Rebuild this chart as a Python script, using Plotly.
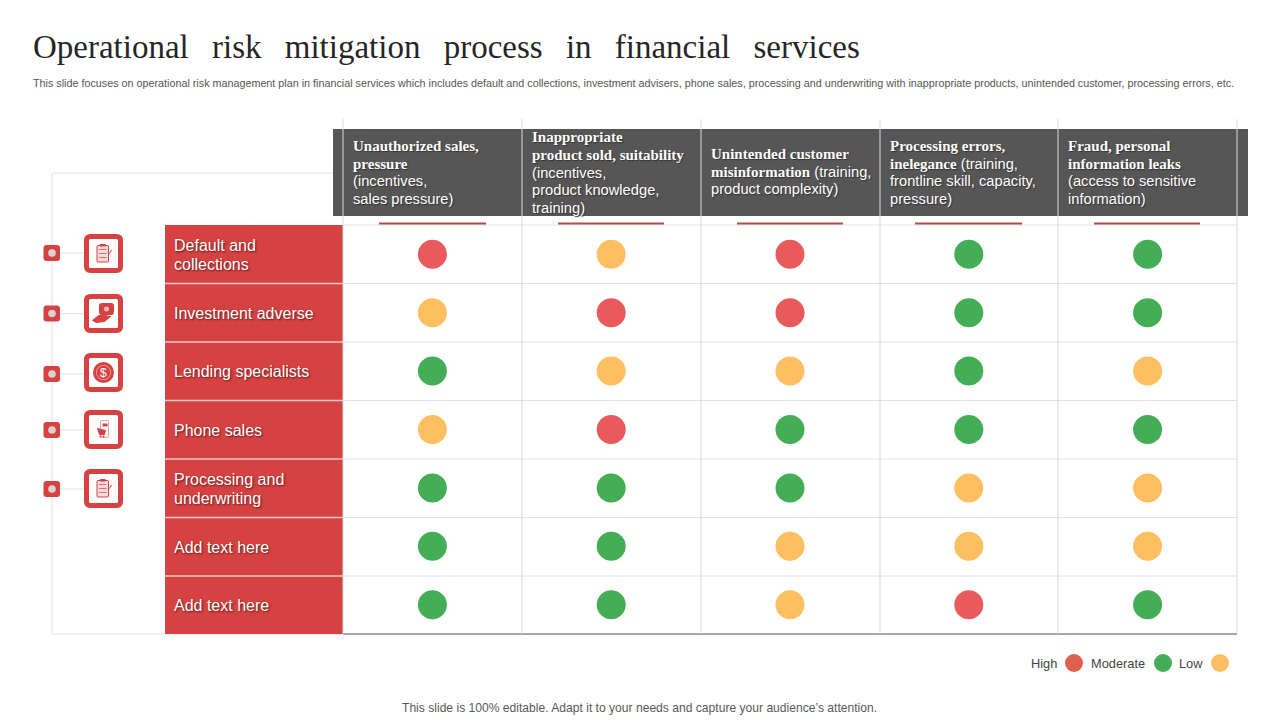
import plotly.graph_objects as go

# Textos
title = "Operational risk mitigation process in financial services"
subtitle = ("This slide focuses on operational risk management plan in financial services which includes default and collections, "
            "investment advisers, phone sales, processing and underwriting with inappropriate products, unintended customer, processing errors, etc.")
footer = "This slide is 100% editable. Adapt it to your needs and capture your audience\u2019s attention."

# Dados da matriz
row_labels = [
    ["Default and", "collections"],
    ["Investment adverse"],
    ["Lending specialists"],
    ["Phone sales"],
    ["Processing and", "underwriting"],
    ["Add text here"],
    ["Add text here"],
]
# cada linha do cabecalho: (parte em negrito, parte normal)
col_headers = [
    [("Unauthorized sales,", ""), ("pressure", ""), ("", "(incentives,"), ("", "sales pressure)")],
    [("Inappropriate", ""), ("product sold, suitability", ""), ("", "(incentives,"), ("", "product knowledge,"), ("", "training)")],
    [("Unintended customer", ""), ("misinformation", " (training,"), ("", "product complexity)")],
    [("Processing errors,", ""), ("inelegance", " (training,"), ("", "frontline skill, capacity,"), ("", "pressure)")],
    [("Fraud, personal", ""), ("information leaks", ""), ("", "(access to sensitive"), ("", "information)")],
]
ratings = [
    ["High", "Low", "High", "Moderate", "Moderate"],
    ["Low", "High", "High", "Moderate", "Moderate"],
    ["Moderate", "Low", "Low", "Moderate", "Low"],
    ["Low", "High", "Moderate", "Moderate", "Moderate"],
    ["Moderate", "Moderate", "Moderate", "Low", "Low"],
    ["Moderate", "Moderate", "Low", "Low", "Low"],
    ["Moderate", "Moderate", "Low", "High", "Moderate"],
]
legend_levels = ["High", "Moderate", "Low"]

# Cores
RED = "#D64242"
DARK = "#565656"
GRID = "#E2E2E2"
level_colors = {"High": "#E95A5C", "Moderate": "#43AE55", "Low": "#FDBF62"}
legend_colors = {"High": "#E0604F", "Moderate": "#43AE55", "Low": "#FDBF62"}
SANS = "Liberation Sans"
SERIF = "Liberation Serif"

# Geometria em pixels
cols_x = [343, 522, 701, 880, 1058, 1237]
rows_y = [225, 283.5, 342, 400.5, 459, 517.5, 576, 634]
shapes = []
annots = []


def rect(x0, y0, x1, y1, fill, line=None, width=0):
    shapes.append(dict(type="rect", xref="x2", yref="y2", x0=x0, y0=y0, x1=x1, y1=y1,
                       fillcolor=fill, line=dict(color=line or fill, width=width)))


def seg(x0, y0, x1, y1, color=GRID, width=1):
    shapes.append(dict(type="line", xref="x2", yref="y2", x0=x0, y0=y0, x1=x1, y1=y1,
                       line=dict(color=color, width=width)))


def path(d, fill="rgba(0,0,0,0)", line=RED, width=1):
    shapes.append(dict(type="path", xref="x2", yref="y2", path=d, fillcolor=fill,
                       line=dict(color=line, width=width)))


def circle(cx, cy, r, fill):
    shapes.append(dict(type="circle", xref="x2", yref="y2", x0=cx - r, y0=cy - r, x1=cx + r, y1=cy + r,
                       fillcolor=fill, line=dict(width=0)))


def text(x, y, s, size, color, font=SANS, anchor="left", shadow=None):
    f = dict(family=font, size=size, color=color)
    if shadow:
        f["shadow"] = shadow
    # a anotacao tem 2px de folga a esquerda
    x = x - 2 if anchor == "left" else x
    annots.append(dict(xref="x2", yref="y2", x=x, y=y, text=s, showarrow=False, xanchor=anchor,
                       yanchor="middle", font=f, align=anchor))


def rounded(x0, y0, x1, y1, r):
    return (f"M{x0+r},{y0} L{x1-r},{y0} Q{x1},{y0} {x1},{y0+r} L{x1},{y1-r} Q{x1},{y1} {x1-r},{y1} "
            f"L{x0+r},{y1} Q{x0},{y1} {x0},{y1-r} L{x0},{y0+r} Q{x0},{y0} {x0+r},{y0} Z")


# Icones desenhados a mao
def icon_clipboard(cx, cy):
    path(rounded(cx - 6.5, cy - 8, cx + 5, cy + 8.5, 1), fill="#F6D9D9")
    rect(cx - 3.5, cy - 9.5, cx + 2, cy - 7, RED)
    for dy in (-4, 0, 4):
        seg(cx - 4.5, cy + dy, cx + 3, cy + dy, "#DE7070", 1)
    seg(cx + 5, cy + 1, cx + 8.5, cy - 4, RED, 1)


def icon_hand(cx, cy):
    path(rounded(cx - 4, cy - 10, cx + 10, cy + 1, 2), fill=RED)
    circle(cx + 3, cy - 4.5, 2.5, "#F3B9B9")
    path(f"M{cx-11},{cy+7} L{cx-5},{cy+2} L{cx+1},{cy+2} L{cx+7},{cy+3} L{cx+1},{cy+8} L{cx-7},{cy+9} Z", fill=RED)


def icon_coin(cx, cy):
    circle(cx, cy, 10.5, RED)
    circle(cx, cy, 7.5, "#F0A5A5")
    circle(cx, cy, 6.8, RED)
    text(cx, cy, "$", 12, "#FFFFFF", anchor="center")


def icon_cart(cx, cy):
    path(rounded(cx - 3, cy - 9, cx + 5, cy + 8, 1), line="#E9A0A0")
    rect(cx - 1, cy - 6, cx + 4, cy - 3, RED)
    path(f"M{cx-6},{cy-1} L{cx+2},{cy+1} L{cx+1},{cy+5} L{cx-4},{cy+5} Z", fill=RED)
    circle(cx - 3, cy + 7, 1.1, RED)
    circle(cx, cy + 7, 1.1, RED)


# Moldura a esquerda
seg(52, 173, 333, 173)
seg(52, 173, 52, 634)
seg(52, 634, 343, 634)

# Rotulos das linhas
rect(165, rows_y[0], cols_x[0], rows_y[-1], RED)

# Grade da matriz
for y in rows_y[:-1]:
    seg(cols_x[0], y, cols_x[-1], y)
for y in rows_y[1:-1]:
    seg(165, y, cols_x[0], y, "#EBC9C9", 1.5)
seg(cols_x[0], rows_y[-1], cols_x[-1], rows_y[-1], "#8A8A8A", 1.5)

# Cabecalho escuro
rect(333, 129, 1248, 216, DARK)
for x in cols_x:
    seg(x, 119, x, 634, "#DADADA", 1)

# Sublinhados vermelhos
for x0, x1 in [(379, 486), (558, 664), (737, 843), (915, 1022), (1094, 1200)]:
    seg(x0, 223.5, x1, 223.5, "#A94F4F", 2)

# Textos do cabecalho
for j, lines in enumerate(col_headers):
    y0 = 172.5 - (len(lines) - 1) * 17.6 / 2
    if len(lines) == 3:
        y0 -= 1
    for k, (bold, normal) in enumerate(lines):
        s = ""
        if bold:
            s += f'<span style="font-family:{SERIF};font-weight:bold;font-size:15px;">{bold}</span>'
        s += normal
        text(cols_x[j] + 9.5, y0 + k * 17.6, s, 14.7, "#FFFFFF", shadow="1px 1px 1px #333333")

# Textos dos rotulos
for i, lines in enumerate(row_labels):
    cy = (rows_y[i] + rows_y[i + 1]) / 2 + 0.7
    y0 = cy - (len(lines) - 1) * 19 / 2
    for k, line in enumerate(lines):
        text(174, y0 + k * 19, line, 16, "#FFFFFF", shadow="1px 1px 2px #5A1A1A")

# Marcadores e icones a esquerda
icons = [(253.5, icon_clipboard), (313.5, icon_hand), (372.5, icon_coin), (429.5, icon_cart), (488.5, icon_clipboard)]
bullets_y = [253, 313.5, 374, 430, 489]
for (cy, draw), by in zip(icons, bullets_y):
    seg(60, by, 84, by)
    path(rounded(43.5, by - 8, 60, by + 8, 3), fill=RED, line=RED, width=0)
    circle(52, by, 3.8, "#D8D2D2")
    path(rounded(86.5, cy - 17, 120.5, cy + 17, 4), fill="#FFFFFF", line=RED, width=5)
    draw(103.5, cy)

# Textos soltos
text(33, 47, f'<span style="word-spacing:15px;">{title}</span>', 33, "#262626", font=SERIF)
text(33, 82.7, subtitle, 10.77, "#555555")
text(639.5, 708, footer, 12.1, "#595959", anchor="center")

# Legenda
for level, tx in zip(legend_levels, [1031, 1091, 1179]):
    text(tx, 663, level, 12.8, "#444444")

fig = go.Figure()

# Bolinhas da matriz
for level, color in level_colors.items():
    xs, ys = [], []
    for i, row in enumerate(ratings):
        for j, r in enumerate(row):
            if r == level:
                xs.append(j)
                ys.append(i)
    fig.add_trace(go.Scatter(x=xs, y=ys, mode="markers", name=level, showlegend=False,
                             marker=dict(size=29, color=color)))

# Bolinhas da legenda
fig.add_trace(go.Scatter(x=[1074, 1163, 1220], y=[663, 663, 663], xaxis="x2", yaxis="y2", mode="markers",
                         showlegend=False, marker=dict(size=18, color=[legend_colors[l] for l in legend_levels])))

hidden = dict(showgrid=False, zeroline=False, showticklabels=False, ticks="", showline=False)
fig.update_layout(
    width=1280, height=720, margin=dict(l=0, r=0, t=0, b=0),
    paper_bgcolor="#FFFFFF", plot_bgcolor="rgba(0,0,0,0)", showlegend=False,
    xaxis=dict(domain=[cols_x[0] / 1280, cols_x[-1] / 1280], range=[-0.5, 4.5], anchor="y", **hidden),
    yaxis=dict(domain=[1 - rows_y[-1] / 720, 1 - rows_y[0] / 720], range=[6.5, -0.5], anchor="x", **hidden),
    xaxis2=dict(domain=[0, 1], range=[0, 1280], anchor="y2", **hidden),
    yaxis2=dict(domain=[0, 1], range=[720, 0], anchor="x2", **hidden),
    shapes=shapes, annotations=annots,
)

fig.write_html("out.html", config=dict(displayModeBar=False), post_script="document.body.style.margin='0';")
